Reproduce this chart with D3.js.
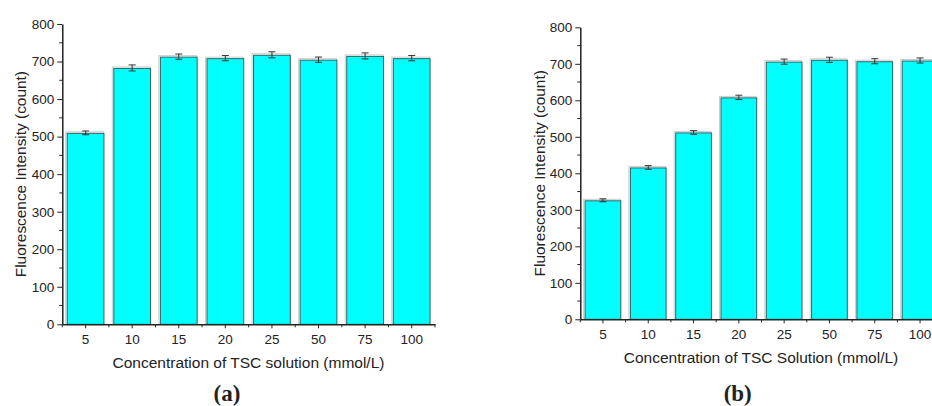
<!DOCTYPE html>
<meta charset="utf-8">
<style>
  body { margin: 0; background: #fff; }
  text { font-family: "Liberation Sans", Arial, sans-serif; fill: #222; }
</style>
<body>
<script src="https://cdn.jsdelivr.net/npm/d3@7"></script>
<script>

var width = 932,
    height = 406;

var categories = ["5", "10", "15", "20", "25", "50", "75", "100"];

// panel (a)
var valuesA = [510, 683, 713, 709, 718, 705, 715, 709];
var errorsA = [5, 8, 7, 7, 8, 7, 8, 7];

// panel (b)
var valuesB = [326, 416, 512, 608, 706, 711, 707, 709];
var errorsB = [4, 5, 5, 6, 7, 7, 7, 7];

var yTicks = [0, 100, 200, 300, 400, 500, 600, 700, 800];

var svg = d3.select("body").append("svg")
    .attr("width", width)
    .attr("height", height);

svg.append("defs").append("clipPath").attr("id", "page")
  .append("rect").attr("width", width).attr("height", height);

function panel(opt) {
  var g = svg.append("g").attr("clip-path", "url(#page)");

  var x = d3.scaleBand()
      .domain(categories)
      .range([opt.left, opt.left + opt.w])
      .paddingInner(0.19)
      .paddingOuter(0.095);

  var y = d3.scaleLinear()
      .domain([0, 800])
      .range([opt.top + opt.h, opt.top]);

  var data = categories.map(function(c, i) {
    return {cat: c, v: opt.values[i], e: opt.errors[i]};
  });

  // faint shadow behind the bars
  g.selectAll(".shadow").data(data).enter().append("rect")
      .attr("x", d => x(d.cat) - 1)
      .attr("y", d => y(d.v) - 1)
      .attr("width", x.bandwidth())
      .attr("height", d => y(0) - y(d.v))
      .attr("fill", "none")
      .attr("stroke", "#cccccc")
      .attr("stroke-width", 1);

  g.selectAll(".bar").data(data).enter().append("rect")
      .attr("x", d => x(d.cat) + 0.5)
      .attr("y", d => y(d.v) + 0.5)
      .attr("width", x.bandwidth() - 1)
      .attr("height", d => y(0) - y(d.v) - 0.5)
      .attr("fill", "#00ffff")
      .attr("stroke", "#2e6464")
      .attr("stroke-width", 1);

  // error bars
  var eb = g.selectAll(".err").data(data).enter().append("g")
      .attr("stroke", "#333")
      .attr("stroke-width", 1);
  eb.append("line")
      .attr("x1", d => x(d.cat) + x.bandwidth() / 2)
      .attr("x2", d => x(d.cat) + x.bandwidth() / 2)
      .attr("y1", d => y(d.v - d.e))
      .attr("y2", d => y(d.v + d.e));
  eb.selectAll(".cap").data(d => [[d, d.v - d.e], [d, d.v + d.e]]).enter().append("line")
      .attr("x1", p => x(p[0].cat) + x.bandwidth() / 2 - 3.5)
      .attr("x2", p => x(p[0].cat) + x.bandwidth() / 2 + 3.5)
      .attr("y1", p => y(p[1]))
      .attr("y2", p => y(p[1]));

  // y axis
  var yAxis = g.append("g")
      .attr("transform", "translate(" + opt.left + ",0)")
      .call(d3.axisLeft(y).tickValues(yTicks).tickSize(5).tickPadding(3).tickSizeOuter(0));
  yAxis.selectAll("text").style("font-size", "13.5px").attr("fill", "#222");
  yAxis.selectAll("line, path").attr("stroke", "#222");
  yAxis.select("path").attr("stroke-width", 1.5);
  g.append("g").selectAll("line")
      .data(d3.range(50, 800, 100)).enter().append("line")
      .attr("x1", opt.left - 3).attr("x2", opt.left)
      .attr("y1", d => y(d)).attr("y2", d => y(d))
      .attr("stroke", "#222");

  // x axis
  var xAxis = g.append("g")
      .attr("transform", "translate(0," + (opt.top + opt.h) + ")")
      .call(d3.axisBottom(x).tickSize(4).tickPadding(6).tickSizeOuter(0));
  xAxis.selectAll("text").style("font-size", "13.5px").attr("fill", "#222");
  xAxis.selectAll("line, path").attr("stroke", "#222");
  xAxis.select("path").attr("stroke-width", 1.5);
  g.append("g").selectAll("line")
      .data(d3.range(categories.length + 1)).enter().append("line")
      .attr("x1", i => opt.left + i * (opt.w / categories.length))
      .attr("x2", i => opt.left + i * (opt.w / categories.length))
      .attr("y1", opt.top + opt.h)
      .attr("y2", opt.top + opt.h + 3)
      .attr("stroke", "#222");

  // labels
  svg.append("text")
      .attr("transform", "translate(" + opt.yLabelX + "," + (opt.top + opt.h / 2) + ") rotate(-90)")
      .attr("text-anchor", "middle")
      .style("font-size", "15.4px")
      .text("Fluorescence Intensity (count)");

  svg.append("text")
      .attr("x", opt.xLabelX)
      .attr("y", opt.xLabelY)
      .attr("text-anchor", "middle")
      .style("font-size", "15.5px")
      .text(opt.xLabel);

  svg.append("text")
      .attr("x", opt.tagX)
      .attr("y", 401)
      .attr("text-anchor", "middle")
      .style("font-family", "'Liberation Serif', 'DejaVu Serif', serif")
      .style("font-size", "23px")
      .style("font-weight", "bold")
      .text(opt.tag);
}

panel({
  left: 62.3, top: 24, w: 372.7, h: 300.3,
  values: valuesA, errors: errorsA,
  yLabelX: 26, xLabelX: 248.5, xLabelY: 368,
  xLabel: "Concentration of TSC solution (mmol/L)",
  tagX: 227, tag: "(a)"
});

panel({
  left: 580.3, top: 27.3, w: 362.4, h: 292,
  values: valuesB, errors: errorsB,
  yLabelX: 545, xLabelX: 761, xLabelY: 363,
  xLabel: "Concentration of TSC Solution (mmol/L)",
  tagX: 737.7, tag: "(b)"
});

</script>
